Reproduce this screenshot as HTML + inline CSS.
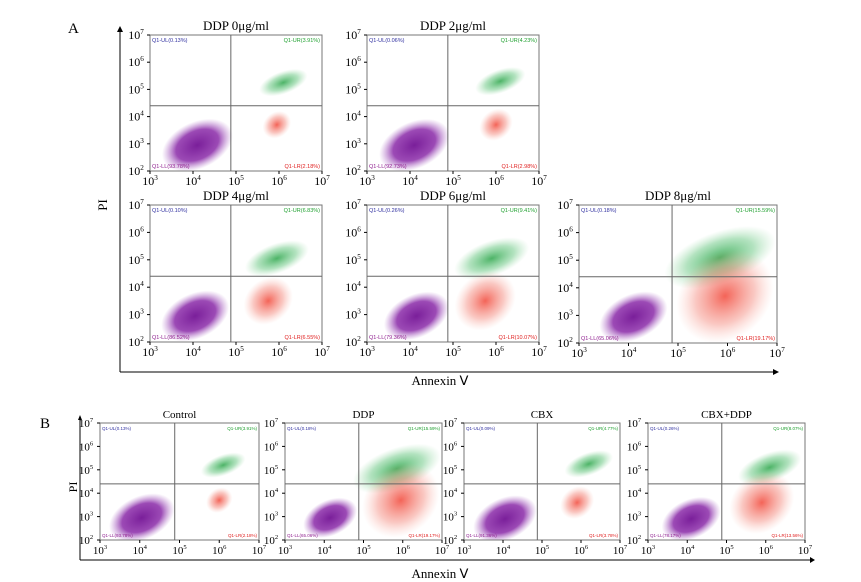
<!DOCTYPE html>
<html><head><meta charset="utf-8"><style>
body{margin:0;background:#fff;}
svg{display:block;font-family:"Liberation Serif",serif;}
</style></head><body>
<svg id="fig" width="861" height="582" viewBox="0 0 861 582">
<defs>
<radialGradient id="gLL"><stop offset="0" stop-color="#7a1f9a" stop-opacity="1"/><stop offset="0.6" stop-color="#8a2aa8" stop-opacity="0.85"/><stop offset="1" stop-color="#b070c8" stop-opacity="0"/></radialGradient>
<radialGradient id="gUR"><stop offset="0" stop-color="#20a040" stop-opacity="0.8"/><stop offset="0.6" stop-color="#40b860" stop-opacity="0.4"/><stop offset="1" stop-color="#80d090" stop-opacity="0"/></radialGradient>
<radialGradient id="gLR"><stop offset="0" stop-color="#f03020" stop-opacity="0.75"/><stop offset="0.6" stop-color="#f06050" stop-opacity="0.35"/><stop offset="1" stop-color="#f8a090" stop-opacity="0"/></radialGradient>
</defs>
<text x="68" y="33" font-size="15">A</text>
<text x="40" y="428" font-size="15">B</text>
<line x1="120" y1="372" x2="120" y2="30" stroke="#000"/>
<polygon points="117,32 120,26 123,32" fill="#000"/>
<line x1="120" y1="372" x2="775" y2="372" stroke="#000"/>
<polygon points="773,369 779,372 773,375" fill="#000"/>
<text transform="translate(107,205) rotate(-90)" font-size="13" text-anchor="middle">PI</text>
<text x="440" y="385" font-size="13" text-anchor="middle">Annexin Ⅴ</text>
<line x1="80" y1="560" x2="80" y2="418" stroke="#000"/>
<polygon points="78,420 80,415 82,420" fill="#000"/>
<line x1="80" y1="560" x2="812" y2="560" stroke="#000"/>
<polygon points="810,557 815,560 810,563" fill="#000"/>
<text transform="translate(77,487) rotate(-90)" font-size="12" text-anchor="middle">PI</text>
<text x="440" y="578" font-size="13" text-anchor="middle">Annexin Ⅴ</text>
<g id="plots"></g>
</svg>
<script>
const titles = ["DDP 0μg/ml","DDP 2μg/ml","DDP 4μg/ml","DDP 6μg/ml","DDP 8μg/ml","Control","DDP","CBX","CBX+DDP"];
const ulPct = [0.13,0.06,0.10,0.26,0.18,0.13,0.18,0.09,0.26];
const urPct = [3.91,4.23,6.83,9.41,15.59,3.91,15.59,4.77,8.07];
const lrPct = [2.18,2.98,6.55,10.07,19.17,2.18,19.17,3.78,13.56];
const llPct = [93.78,92.73,86.52,79.36,65.06,93.78,65.06,91.36,78.17];
const llCenterX = [4.1,4.1,4.05,4.15,4.1,4.05,4.15,4.05,4.1];
const llCenterY = [2.95,2.95,2.95,2.95,2.95,2.95,2.95,2.9,2.9];
const urCenterX = [6.1,6.1,5.95,5.9,5.85,6.1,5.85,6.2,6.1];
const urCenterY = [5.25,5.3,5.05,5.05,5.1,5.2,5.05,5.25,5.1];
const lrCenterX = [5.95,6.0,5.75,5.75,5.95,6.0,5.95,5.9,5.9];
const lrCenterY = [3.7,3.7,3.5,3.5,3.7,3.7,3.7,3.6,3.6];
const xTicks = [3,4,5,6,7];
const yTicks = [2,3,4,5,6,7];
const gateX = 4.88, gateY = 4.4;
const boxes = [[150,35,172,136],[367,35,172,136],[150,205,172,137],[367,205,172,137],[579,205,198,138],
               [100,423,159,117],[285,423,157,117],[464,423,156,117],[648,423,157,117]];
const svgNS="http://www.w3.org/2000/svg";
const root=document.getElementById('plots');
function mk(tag,attrs,parent){const e=document.createElementNS(svgNS,tag);for(const k in attrs)e.setAttribute(k,attrs[k]);parent.appendChild(e);return e;}
boxes.forEach((b,i)=>{
  const [L,T,W,H]=b; const B=T+H;
  const sx=v=>L+(v-3)/4*W, sy=v=>B-(v-2)/5*H;
  const small = i>=5;
  const g=mk('g',{},root);
  
  
  const t=mk('text',{x:L+W/2,y:T-5,'font-size':small?11:13,'text-anchor':'middle'},g);
  t.textContent=titles[i];
  
  
  const clip='c'+i; const cp=mk('clipPath',{id:clip},g); mk('rect',{x:L,y:T,width:W,height:H},cp);
  const cg=mk('g',{'clip-path':'url(#'+clip+')'},g);
  const k=W/172;
  const rl=Math.sqrt(llPct[i])*3.1*k;
  const e1=mk('ellipse',{cx:sx(llCenterX[i]),cy:sy(llCenterY[i]),rx:rl*1.25,ry:rl*0.78,fill:'url(#gLL)',transform:`rotate(-25 ${sx(llCenterX[i])} ${sy(llCenterY[i])})`},cg);
  
  
  const ru=Math.sqrt(urPct[i])*9.5*k;
  const e2=mk('ellipse',{cx:sx(urCenterX[i]),cy:sy(urCenterY[i]),rx:ru*1.35,ry:ru*0.6,fill:'url(#gUR)',transform:`rotate(-20 ${sx(urCenterX[i])} ${sy(urCenterY[i])})`},cg);
  
  
  const rr=Math.sqrt(lrPct[i])*9*k;
  const e3=mk('ellipse',{cx:sx(lrCenterX[i]),cy:sy(lrCenterY[i]),rx:rr*1.15,ry:rr*0.95,fill:'url(#gLR)',transform:`rotate(-40 ${sx(lrCenterX[i])} ${sy(lrCenterY[i])})`},cg);
  
  
  const fr=mk('rect',{x:L,y:T,width:W,height:H,fill:'none',stroke:'#777','stroke-width':1},g);
  
  
  mk('line',{x1:sx(gateX),y1:T,x2:sx(gateX),y2:B,stroke:'#666','stroke-width':1},g);
  mk('line',{x1:L,y1:sy(gateY),x2:L+W,y2:sy(gateY),stroke:'#666','stroke-width':1},g);
  const fs=small?4.5:5.5;
  const q=[['Q1-UL('+ulPct[i].toFixed(2)+'%)',L+2,T+7,'start','#3030a0'],['Q1-UR('+urPct[i].toFixed(2)+'%)',L+W-2,T+7,'end','#20a030'],
           ['Q1-LL('+llPct[i].toFixed(2)+'%)',L+2,B-3,'start','#902090'],['Q1-LR('+lrPct[i].toFixed(2)+'%)',L+W-2,B-3,'end','#e02020']];
  q.forEach(a=>{const e=mk('text',{x:a[1],y:a[2],'font-size':fs,'text-anchor':a[3],fill:a[4],'font-family':'Liberation Sans, sans-serif'},g);e.textContent=a[0];
    
    });
  const tfs=small?11:12;
  xTicks.forEach(v=>{const x=sx(v);mk('line',{x1:x,y1:B,x2:x,y2:B+3,stroke:'#000'},g);
    const e=mk('text',{x:x,y:B+14,'font-size':tfs,'text-anchor':'middle'},g);
    
    
    e.appendChild(document.createTextNode('10'));const s=mk('tspan',{'font-size':tfs*0.6,dy:-5},e);s.textContent=v;});
  yTicks.forEach(v=>{const y=sy(v);mk('line',{x1:L-3,y1:y,x2:L,y2:y,stroke:'#000'},g);
    const e=mk('text',{x:L-14,y:y+4,'font-size':tfs,'text-anchor':'middle'},g);
    
    
    e.appendChild(document.createTextNode('10'));const s=mk('tspan',{'font-size':tfs*0.6,dy:-5},e);s.textContent=v;});
});
</script>
</body></html>
